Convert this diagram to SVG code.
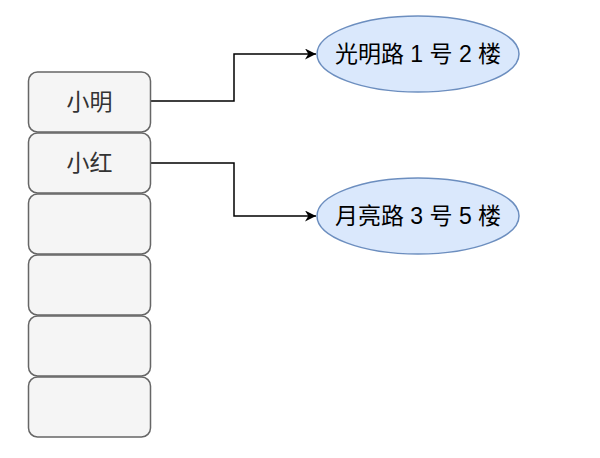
<svg xmlns="http://www.w3.org/2000/svg" width="600" height="458" viewBox="0 0 600 458">
<defs>
<style>
.box{fill:#f5f5f5;stroke:#666666;stroke-width:1.5}
.ell{fill:#dae8fc;stroke:#6c8ebf;stroke-width:1.5}
.t{font-family:"Liberation Sans","Noto Sans CJK SC",sans-serif;font-size:23px;text-anchor:middle;dominant-baseline:central}
.edge{fill:none;stroke:#000;stroke-width:1.5}
</style>
<marker id="arr" viewBox="0 0 10 10" refX="10" refY="5" markerWidth="11" markerHeight="11" markerUnits="userSpaceOnUse" orient="auto">
<path d="M0,0 L10,5 L0,10 L3,5 Z" fill="#000"/>
</marker>
</defs>
<rect width="600" height="458" fill="#fff"/>
<g id="edges">
<path class="edge" d="M151,101 H234 V54 H316" marker-end="url(#arr)"/>
<path class="edge" d="M151,163 H234 V216 H316" marker-end="url(#arr)"/>
</g>
<g id="box1"><rect class="box" x="28.5" y="72" width="122" height="60" rx="9"/><text class="t" x="89.5" y="102" fill="#333">小明</text></g>
<g id="box2"><rect class="box" x="28.5" y="133" width="122" height="60" rx="9"/><text class="t" x="89.5" y="163" fill="#333">小红</text></g>
<g id="box3"><rect class="box" x="28.5" y="194" width="122" height="60" rx="9"/></g>
<g id="box4"><rect class="box" x="28.5" y="255" width="122" height="60" rx="9"/></g>
<g id="box5"><rect class="box" x="28.5" y="316" width="122" height="60" rx="9"/></g>
<g id="box6"><rect class="box" x="28.5" y="377" width="122" height="60" rx="9"/></g>
<g id="addr1"><ellipse class="ell" cx="418" cy="54" rx="101" ry="38"/><text class="t" x="418" y="54" fill="#000">光明路 1 号 2 楼</text></g>
<g id="addr2"><ellipse class="ell" cx="418" cy="216" rx="101" ry="38"/><text class="t" x="418" y="216" fill="#000">月亮路 3 号 5 楼</text></g>
</svg>
